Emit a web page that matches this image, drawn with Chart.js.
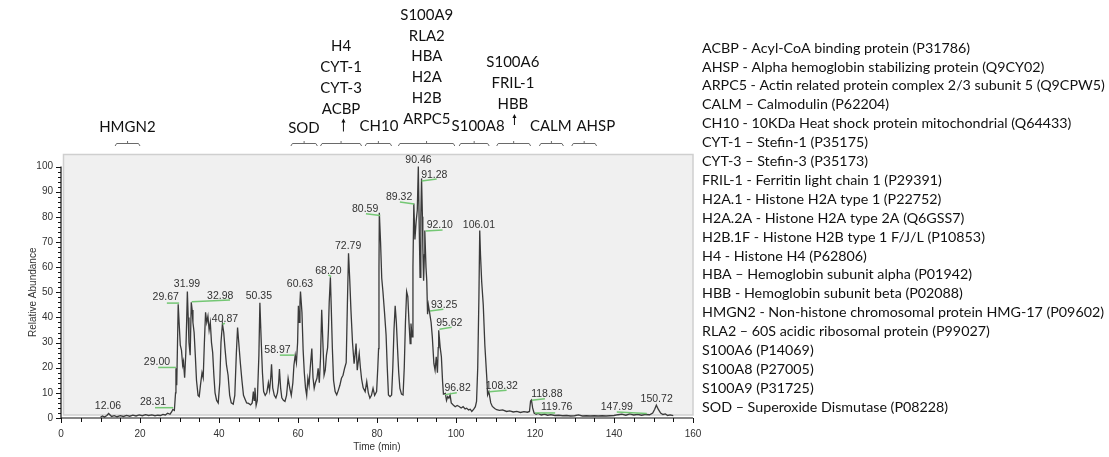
<!DOCTYPE html>
<html>
<head>
<meta charset="utf-8">
<script src="https://cdn.jsdelivr.net/npm/chart.js@4.4.1/dist/chart.umd.min.js"></script>
<style>
  html, body { margin: 0; padding: 0; background: #ffffff; }
  #wrap { width: 1109px; height: 457px; position: relative; }
</style>
</head>
<body>
<div id="wrap"><canvas id="c" width="1109" height="457"></canvas></div>
<script>
// ---------------- DATA ----------------
// Retention time (min) and relative abundance (%)
const retentionTimes = [
  10.0,10.5,11.0,11.6,12.06,12.8,13.5,14.2,15.0,15.8,16.6,17.4,18.2,19.0,19.8,20.6,21.4,22.2,23.0,23.8,24.5,25.2,25.8,26.4,27.0,27.6,28.0,28.31,28.7,
  29.0,29.1,29.3,29.5,29.67,29.9,30.2,30.5,30.8,31.0,31.3,31.6,31.8,31.99,32.2,32.4,32.7,32.98,33.2,33.4,33.7,34.0,34.3,34.7,35.0,35.3,35.7,36.0,36.3,36.6,36.9,37.2,37.5,37.8,38.1,38.4,38.7,39.0,39.4,39.8,40.2,40.5,40.87,41.2,41.5,41.9,42.3,42.7,43.1,43.6,44.0,44.4,44.7,45.0,45.4,45.8,46.2,46.6,47.0,47.5,48.0,48.4,48.7,48.9,49.1,49.4,49.7,50.1,50.35,50.7,51.0,51.3,51.7,52.1,52.5,52.8,53.1,53.3,53.6,54.0,54.4,54.8,55.1,55.3,55.6,55.9,56.3,56.7,57.1,57.5,57.9,58.3,58.7,58.97,59.3,59.6,59.9,60.1,60.3,60.5,60.63,61.0,61.3,61.6,61.9,62.2,62.5,62.8,63.1,63.5,63.8,64.1,64.4,64.8,65.1,65.4,65.7,66.0,66.3,66.6,66.9,67.2,67.5,67.7,67.9,68.2,68.4,68.7,69.0,69.4,69.8,70.2,70.6,71.0,71.4,71.8,72.2,72.5,72.79,73.1,73.4,73.8,74.2,74.5,74.7,75.0,75.3,75.5,75.8,76.1,76.5,77.0,77.4,77.8,78.2,78.6,79.0,79.4,79.9,80.2,80.4,80.5,80.59,80.9,81.2,81.5,81.9,82.3,82.6,82.9,83.3,83.7,84.0,84.3,84.6,84.9,85.2,85.5,85.8,86.2,86.6,86.9,87.2,87.5,87.8,88.1,88.4,88.6,88.9,89.1,89.32,89.6,89.9,90.2,90.46,90.7,90.9,91.1,91.28,91.5,91.6,91.8,92.0,92.1,92.4,92.6,92.8,93.0,93.25,93.7,94.0,94.4,94.7,95.0,95.3,95.5,95.62,96.0,96.3,96.6,96.82,97.3,97.6,97.9,98.2,98.5,98.8,99.3,99.8,100.3,100.8,101.3,101.8,102.3,102.7,103.2,103.6,104.0,104.5,104.9,105.2,105.5,105.8,106.01,106.2,106.5,106.9,107.3,107.8,108.0,108.32,108.8,109.2,109.8,110.3,111.0,111.8,112.8,113.6,114.5,115.4,116.3,117.2,118.1,118.6,118.88,119.1,119.4,119.76,120.3,120.8,121.6,122.4,123.2,124.0,125.0,126.0,127.0,128.0,129.0,130.0,131.0,132.0,133.0,134.0,135.0,136.0,137.0,138.0,139.0,140.0,141.0,142.0,143.0,144.0,145.0,146.0,147.0,147.99,149.0,149.8,150.3,150.72,151.2,151.8,152.4,153.0,153.6,154.2,155.0
];
const abundances = [
  0.3,0.8,0.4,1.0,1.8,0.6,0.9,0.5,0.9,0.6,1.0,0.7,1.1,0.8,1.2,0.9,1.3,1.0,1.2,0.9,1.1,1.0,1.4,1.2,1.9,1.5,2.4,3.4,3.0,
  10,19.8,13,30,45.2,38,29,27,21,22.5,16,26,38,50.3,40,30,25,46,43,38,34,25,15,9,8.5,13,18,16,30,42,38,40.5,35,38,30,26,17,10,7,6,14,30,37.5,34,28,21,17,9,6,5.5,9,26,36,30,22,15,9,7.5,6,5.8,5.2,6,10.5,7,12,5,7,25,45.8,30,18,10.5,9,10,14,11,16,21.4,12,9,8,10,14,19.5,12,8,7,6.6,9,15.8,12,9,14,21,25,22,30,44.6,38,46,50.3,42,27,18,12,9,15.8,13,20,27.6,16,11.8,14,15.8,19.8,14,24,43,30,17,19,25,28,35,46,56,45,27.6,15,10.5,9.2,11,13,15.8,17,19.8,22,45,65.5,55,43,30,21.6,26,29.6,19,23,25.6,20,15.5,12,10.5,14.5,10,7.9,9,11.8,9,10.5,20,27.6,60,81.6,70,55.6,50.3,42,33,20,9.2,8.5,9.2,20,35,44.6,38,27.6,18,11.8,9.5,9.2,20,38,50.3,48.3,38,29.6,37.6,32.3,60,85.3,71,78,82.6,100,75,55.9,80,95.3,80,68,54.6,65,74.6,60,54.6,41.3,45,42.6,38,32.3,21.6,19,24.3,18,28,34.9,28,24.3,14.5,9.5,9.8,7,8.5,7.9,9.2,6,5.2,4.5,5,4.6,4,4.5,3.6,3.9,3.2,3.5,2.6,3.5,4.5,6.6,20,48,74.6,65,54.3,45,29,15.8,9.2,10.5,6,4.6,3.8,3.3,3.0,3.2,2.6,2.8,2.4,2.6,2.2,2.5,2.3,2.6,6.8,7.2,4,2,1.5,1.8,1.2,1.5,1.1,1.3,1.0,1.1,0.9,1.0,0.8,0.9,1.2,0.8,0.9,0.8,0.9,0.8,0.9,0.8,0.9,1.0,1.3,1.5,1.1,1.6,1.2,1.4,1.1,1.4,1.3,2,3.5,5.1,3.5,2,1.4,1.6,1.0,1.2,0.9
];

// Peak labels: text, label centre (time, abundance), optional leader line (time1, abund1 -> time2, abund2)
const peakLabels = ['12.06','28.31','29.00','29.67','31.99','32.98','40.87','50.35','58.97','60.63','68.20','72.79','80.59','89.32','90.46','91.28','92.10','93.25','95.62','96.82','106.01','108.32','118.88','119.76','147.99','150.72'];
const peakLabelX = [11.9,23.3,24.3,26.5,31.9,40.3,41.5,50.1,54.8,60.5,67.7,72.7,77.0,85.6,90.5,94.5,95.9,97.0,98.3,100.4,105.8,111.6,123.0,125.5,140.7,150.8];
const peakLabelY = [4.7,6.3,22.2,48.0,53.3,48.5,39.3,48.5,26.9,53.3,58.6,68.5,83.0,87.8,102.7,96.7,76.8,44.9,37.8,12.0,76.8,12.7,9.4,4.4,4.4,7.7];
const leaderX1 = [null,23.8,24.6,26.8,null,33.1,40.9,null,55.4,null,67.7,null,77.2,85.8,null,91.3,92.3,93.4,95.8,97.2,null,108.4,119.2,120.0,140.7,null];
const leaderY1 = [null,4.1,20.1,45.7,null,46.2,37.3,null,25.0,null,56.9,null,81.2,85.9,null,94.3,74.4,42.6,35.3,9.3,null,10.4,7.1,2.0,2.4,null];
const leaderX2 = [null,28.4,29.1,29.9,null,42.8,41.5,null,59.1,null,68.4,null,80.8,89.4,null,95.1,96.6,96.8,98.9,100.2,null,112.8,122.5,125.1,148.3,null];
const leaderY2 = [null,4.1,20.1,45.7,null,46.9,37.7,null,25.0,null,56.2,null,80.5,85.1,null,95.1,74.8,43.3,36.1,10.0,null,11.0,7.7,2.0,1.8,null];

// Protein group annotations above the chromatogram
const groupNames = [['HMGN2'],['SOD'],['H4','CYT-1','CYT-3','ACBP'],['CH10'],['S100A9','RLA2','HBA','H2A','H2B','ARPC5'],['S100A8'],['S100A6','FRIL-1','HBB'],['CALM'],['AHSP']];
const groupTextTime = [16.8,61.5,70.9,80.5,92.6,105.6,114.4,124.0,135.4];
const bracketStart = [13.7,58.2,65.7,77.0,85.4,100.8,110.3,121.1,129.3];
const bracketEnd   = [20.0,64.9,76.1,83.7,99.7,108.4,118.9,127.2,135.6];
const arrowTimes = [71.5,114.8];

// Abbreviation key
const keyLines = [
  'ACBP - Acyl-CoA binding protein (P31786)',
  'AHSP - Alpha hemoglobin stabilizing protein (Q9CY02)',
  'ARPC5 - Actin related protein complex 2/3 subunit 5 (Q9CPW5)',
  'CALM \u2013 Calmodulin (P62204)',
  'CH10 - 10KDa Heat shock protein mitochondrial (Q64433)',
  'CYT-1 \u2013 Stefin-1 (P35175)',
  'CYT-3 \u2013 Stefin-3 (P35173)',
  'FRIL-1 - Ferritin light chain 1 (P29391)',
  'H2A.1 - Histone H2A type 1 (P22752)',
  'H2A.2A - Histone H2A type 2A (Q6GSS7)',
  'H2B.1F - Histone H2B type 1 F/J/L (P10853)',
  'H4 - Histone H4 (P62806)',
  'HBA \u2013 Hemoglobin subunit alpha (P01942)',
  'HBB - Hemoglobin subunit beta (P02088)',
  'HMGN2 - Non-histone chromosomal protein HMG-17 (P09602)',
  'RLA2 \u2013 60S acidic ribosomal protein (P99027)',
  'S100A6 (P14069)',
  'S100A8 (P27005)',
  'S100A9 (P31725)',
  'SOD \u2013 Superoxide Dismutase (P08228)'
];

const xTickValues = [0,20,40,60,80,100,120,140,160];
const yTickValues = [0,10,20,30,40,50,60,70,80,90,100];

// ---------------- STYLE ----------------
const AXIS_FONT = '"Liberation Sans", Arial, sans-serif';
const NOTE_FONT = 'Lato, "Open Sans", sans-serif';
const groupBottomY = [127.5,128.5,109,126,119,126.5,104,126,126]; // px, bottom row centre
const groupLineGap = 20.8;

const points = retentionTimes.map((t, i) => ({x: t, y: abundances[i]}));

const decor = {
  id: 'decor',
  beforeDatasetsDraw(chart) {
    const {ctx, chartArea: a} = chart;
    ctx.save();
    ctx.fillStyle = '#f0f0f0';
    ctx.strokeStyle = '#cfcfcf';
    ctx.lineWidth = 1.5;
    ctx.beginPath();
    ctx.rect(a.left + 2.5, a.top + 0.5, a.right - a.left - 2.5, a.bottom - a.top - 3.5);
    ctx.fill();
    ctx.stroke();
    ctx.restore();
  },
  afterDatasetsDraw(chart) {
    const {ctx, chartArea: a, scales: {x, y}} = chart;
    ctx.save();
    // axes lines
    ctx.strokeStyle = '#111';
    ctx.lineWidth = 1.2;
    ctx.beginPath();
    ctx.moveTo(a.left, y.getPixelForValue(100));
    ctx.lineTo(a.left, a.bottom);
    ctx.lineTo(a.right, a.bottom);
    ctx.stroke();
    // major + minor ticks
    ctx.lineWidth = 1;
    ctx.beginPath();
    for (let v = 0; v <= 100; v += 2) {
      const py = Math.round(y.getPixelForValue(v)) + 0.5;
      const len = v % 10 === 0 ? 5 : 3;
      ctx.moveTo(a.left - len, py); ctx.lineTo(a.left, py);
    }
    for (let t = 0; t <= 160; t += 5) {
      const px = Math.round(x.getPixelForValue(t)) + 0.5;
      const len = t % 20 === 0 ? 5 : 4;
      ctx.moveTo(px, a.bottom); ctx.lineTo(px, a.bottom + len);
    }
    ctx.stroke();

    // peak labels
    ctx.font = '10.5px ' + AXIS_FONT;
    ctx.textAlign = 'center';
    ctx.textBaseline = 'middle';
    ctx.fillStyle = '#333';
    ctx.strokeStyle = '#74c774';
    ctx.lineWidth = 1.5;
    peakLabels.forEach((lab, i) => {
      if (leaderX1[i] !== null) {
        ctx.beginPath();
        ctx.moveTo(x.getPixelForValue(leaderX1[i]), y.getPixelForValue(leaderY1[i]));
        ctx.lineTo(x.getPixelForValue(leaderX2[i]), y.getPixelForValue(leaderY2[i]));
        ctx.stroke();
      }
    });
    peakLabels.forEach((lab, i) => {
      ctx.fillText(lab, x.getPixelForValue(peakLabelX[i]), y.getPixelForValue(peakLabelY[i]));
    });

    // axis titles
    ctx.font = '10px ' + AXIS_FONT;
    ctx.fillStyle = '#333';
    ctx.fillText('Time (min)', x.getPixelForValue(80), a.bottom + 29);
    ctx.save();
    ctx.translate(33, (y.getPixelForValue(0) + y.getPixelForValue(100)) / 2);
    ctx.rotate(-Math.PI / 2);
    ctx.fillText('Relative Abundance', 0, 0);
    ctx.restore();

    // fitted font size for notes
    ctx.font = '100px ' + NOTE_FONT;
    const ref = ctx.measureText(keyLines[2]).width;
    const keySize = 100 * 403 / ref;

    // group annotations
    ctx.fillStyle = '#111';
    ctx.font = (keySize * 1.05).toFixed(2) + 'px ' + NOTE_FONT;
    groupNames.forEach((names, i) => {
      const cx = x.getPixelForValue(groupTextTime[i]);
      names.forEach((n, j) => {
        const cy = groupBottomY[i] - (names.length - 1 - j) * groupLineGap;
        ctx.fillText(n, cx, cy);
      });
    });
    // brackets
    ctx.strokeStyle = '#6a6a6a';
    ctx.lineWidth = 1;
    groupNames.forEach((names, i) => {
      const x1 = x.getPixelForValue(bracketStart[i]);
      const x2 = x.getPixelForValue(bracketEnd[i]);
      const xm = (x1 + x2) / 2;
      const by = 143.5;
      ctx.beginPath();
      ctx.moveTo(x1, by + 2.5); ctx.lineTo(x1 + 1.5, by); ctx.lineTo(x2 - 1.5, by); ctx.lineTo(x2, by + 2.5);
      ctx.moveTo(xm, by); ctx.lineTo(xm, by - 2.5);
      ctx.stroke();
    });
    // arrows
    ctx.strokeStyle = '#111';
    ctx.fillStyle = '#111';
    const arrowTop = [118.5, 114];
    const arrowBot = [131.5, 125];
    arrowTimes.forEach((t, i) => {
      const ax = x.getPixelForValue(t);
      ctx.beginPath();
      ctx.moveTo(ax, arrowBot[i]); ctx.lineTo(ax, arrowTop[i] + 2);
      ctx.stroke();
      ctx.beginPath();
      ctx.moveTo(ax, arrowTop[i]); ctx.lineTo(ax - 2, arrowTop[i] + 4); ctx.lineTo(ax + 2, arrowTop[i] + 4);
      ctx.closePath(); ctx.fill();
    });

    // key
    ctx.font = keySize.toFixed(2) + 'px ' + NOTE_FONT;
    ctx.textAlign = 'left';
    ctx.fillStyle = '#111';
    keyLines.forEach((l, i) => {
      ctx.fillText(l, 702, 48 + i * 18.9);
    });
    ctx.restore();
  }
};

new Chart(document.getElementById('c'), {
  type: 'line',
  data: {
    datasets: [{
      data: points,
      borderColor: '#3a3a3a',
      borderWidth: 1.3,
      pointRadius: 0,
      tension: 0,
      fill: false
    }]
  },
  options: {
    responsive: false,
    animation: false,
    devicePixelRatio: 1,
    layout: { padding: { top: 154, right: 416, left: 0, bottom: 0 } },
    plugins: { legend: { display: false }, tooltip: { enabled: false } },
    scales: {
      x: {
        type: 'linear', min: 0, max: 160,
        afterBuildTicks: s => { s.ticks = xTickValues.map(v => ({value: v})); },
        afterFit: s => { s.height = 39; },
        ticks: { font: { family: AXIS_FONT, size: 10 }, color: '#333', padding: 2, maxRotation: 0 },
        grid: { display: false, drawOnChartArea: false },
        border: { display: false }
      },
      y: {
        type: 'linear', min: 0, max: 105,
        afterBuildTicks: s => { s.ticks = yTickValues.map(v => ({value: v})); },
        afterFit: s => { s.width = 61; },
        ticks: { font: { family: AXIS_FONT, size: 10 }, color: '#333', padding: 0 },
        grid: { display: false, drawOnChartArea: false, tickLength: 8 },
        border: { display: false }
      }
    }
  },
  plugins: [decor]
});
</script>
</body>
</html>
